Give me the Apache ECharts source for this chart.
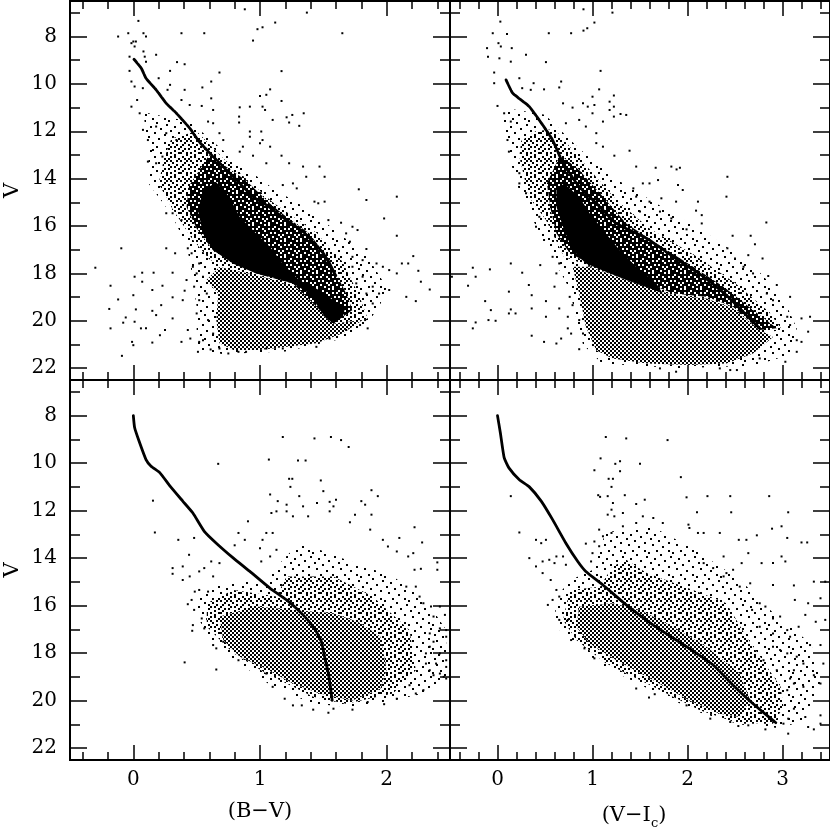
<!DOCTYPE html>
<html>
<head>
<meta charset="utf-8">
<title>Colour-magnitude diagrams</title>
<script src="https://cdn.jsdelivr.net/npm/echarts@6/dist/echarts.min.js"></script>
<style>
  html, body { margin: 0; padding: 0; background: #fff; overflow: hidden; }
  #chart { width: 830px; height: 827px; }
</style>
</head>
<body>
<div id="chart"></div>
<script>
// tick values
var vMajor = [8, 10, 12, 14, 16, 18, 20, 22]
var vMinor = [7, 9, 11, 13, 15, 17, 19, 21]
var bvMajor = [0, 1, 2]
var bvMinor = [-0.4, -0.2, 0.2, 0.4, 0.6, 0.8, 1.2, 1.4, 1.6, 1.8, 2.2, 2.4]
var viMajor = [0, 1, 2, 3]
var viMinor = [-0.4, -0.2, 0.2, 0.4, 0.6, 0.8, 1.2, 1.4, 1.6, 1.8, 2.2, 2.4, 2.6, 2.8, 3.2, 3.4]

// ridge lines, [colour, V]
var topLeftRidge = [[0.005, 8.96], [0.063, 9.34], [0.1, 9.76], [0.18, 10.25], [0.26, 10.82], [0.34, 11.24], [0.445, 11.87], [0.52, 12.44], [0.63, 13.07], [0.79, 13.92], [0.945, 14.76], [1.05, 15.11], [1.21, 15.75], [1.34, 16.24], [1.5, 17.15], [1.6, 18.14]]
var topRightRidge = [[0.09, 9.83], [0.16, 10.39], [0.335, 10.96], [0.475, 11.73], [0.58, 12.37], [0.69, 13.35], [0.86, 14.34], [1.04, 15.04], [1.25, 15.89], [1.57, 16.52], [1.85, 17.3], [2.17, 18.14], [2.41, 18.92], [2.62, 19.76], [2.76, 20.32]]
var lowLeftCurve = [[0, 8], [0.01, 8.5], [0.045, 9.07], [0.1, 9.85], [0.14, 10.13], [0.21, 10.41], [0.29, 10.97], [0.39, 11.6], [0.47, 12.1], [0.56, 12.87], [0.655, 13.37], [0.79, 14], [0.92, 14.56], [1.08, 15.27], [1.21, 15.76], [1.34, 16.39], [1.43, 16.96], [1.485, 17.52], [1.51, 18.15], [1.54, 18.86], [1.57, 19.99]]
var lowRightCurve = [[0, 8], [0.03, 8.72], [0.07, 9.77], [0.12, 10.2], [0.23, 10.7], [0.335, 11], [0.46, 11.6], [0.58, 12.38], [0.72, 13.37], [0.845, 14.14], [0.93, 14.56], [1.11, 15.13], [1.355, 15.97], [1.64, 16.82], [1.99, 17.73], [2.27, 18.5], [2.48, 19.35], [2.69, 20.13], [2.93, 20.93]]

// outlines of the regions too crowded to read star by star, [colour, V]
var topLeftCore = [[0.655, 14.15], [0.76, 14.78], [0.84, 15.62], [0.97, 16.32], [1.08, 16.88], [1.18, 17.59], [1.31, 18.29], [1.47, 18.71], [1.58, 19.13], [1.67, 19.48], [1.655, 19.83], [1.58, 20.11], [1.51, 19.83], [1.39, 18.85], [1.26, 18.43], [1.13, 18.22], [0.97, 18], [0.79, 17.59], [0.63, 17.02], [0.55, 16.32], [0.51, 15.34], [0.55, 14.5]]
var topLeftDense = [[0.6, 13], [0.89, 14.08], [1.08, 15.06], [1.21, 15.62], [1.39, 16.32], [1.55, 17.45], [1.68, 18.85], [1.73, 19.55], [1.58, 20.11], [1.26, 18.43], [0.97, 18], [0.63, 17.02], [0.5, 16.1], [0.42, 15.2], [0.44, 14.3]]
var topLeftMid = [[0.3, 12.3], [0.5, 12], [0.7, 13.1], [1.1, 15], [1.45, 16.3], [1.65, 17.5], [1.78, 18.9], [1.85, 19.9], [1.6, 20.3], [0.6, 17.4], [0.46, 16.5], [0.3, 15.2], [0.2, 14.2], [0.24, 13.2]]
var topLeftGrey = [[0.576, 18.29], [0.68, 17.73], [0.97, 18.08], [1.13, 18.3], [1.39, 18.85], [1.51, 19.83], [1.58, 20.11], [1.81, 19.97], [1.655, 20.53], [1.445, 20.95], [1.23, 21.09], [1, 21.23], [0.79, 21.23], [0.68, 20.95], [0.655, 19.97], [0.67, 18.85]]
var topLeftSparse = [[0.08, 11.2], [0.45, 11.6], [0.75, 13], [1.1, 14.4], [1.35, 15.2], [1.6, 16.2], [1.85, 17.3], [2, 18.6], [1.95, 19.3], [1.85, 20.1], [1.7, 20.7], [1.2, 21.3], [0.7, 21.4], [0.5, 21.2], [0.5, 19.4], [0.45, 17.6], [0.42, 16.8], [0.3, 15.5], [0.12, 14.2], [0.12, 13]]

var topRightCore = [[0.7, 14.2], [0.86, 14.76], [0.97, 15.46], [1.11, 16.17], [1.285, 17.01], [1.46, 17.72], [1.67, 18.42], [1.74, 18.85], [1.6, 18.63], [1.355, 18.28], [1.14, 17.93], [0.93, 17.58], [0.79, 17.01], [0.7, 16.17], [0.62, 15.18], [0.62, 14.48]]
var topRightDense = [[0.66, 13], [0.86, 13.63], [1.14, 14.9], [1.355, 15.89], [1.67, 16.73], [2.06, 17.72], [2.38, 18.56], [2.69, 19.55], [2.94, 20.32], [2.76, 20.39], [2.48, 19.41], [2.2, 18.99], [1.85, 18.85], [1.5, 18.28], [0.97, 17.58], [0.76, 17.15], [0.62, 16.31], [0.56, 15.3], [0.52, 14.2]]
var topRightMid = [[0.4, 12], [0.6, 11.9], [0.9, 13.3], [1.25, 14.9], [1.6, 16.1], [2.1, 17.3], [2.5, 18.4], [2.85, 19.6], [3, 20.4], [2.76, 20.5], [1.85, 19], [0.97, 17.7], [0.7, 17.3], [0.51, 15.75], [0.33, 14.76], [0.28, 13.92], [0.23, 13.07], [0.25, 12.4]]
var topRightGrey = [[0.79, 17.72], [0.97, 17.72], [1.355, 18.28], [1.85, 18.92], [2.2, 19.06], [2.48, 19.48], [2.76, 20.39], [2.9, 20.68], [2.69, 21.38], [2.41, 21.8], [2.02, 21.87], [1.57, 21.8], [1.21, 21.59], [1.04, 21.24], [0.93, 20.25], [0.86, 18.85]]
var topRightSparse = [[0.05, 11], [0.5, 11.3], [0.85, 12.7], [1.2, 13.9], [1.65, 15], [2.2, 16.3], [2.7, 17.7], [3, 19], [3.15, 20.3], [3.1, 21.4], [2.7, 21.9], [1.9, 22], [1.1, 21.8], [0.9, 21], [0.75, 18.6], [0.55, 17.1], [0.38, 15.8], [0.22, 14.4], [0.1, 12.8]]

var lowLeftGrey = [[0.68, 16.46], [0.97, 16.04], [1.26, 16.18], [1.58, 16.32], [1.78, 16.7], [1.95, 17.3], [2, 18.7], [1.95, 19.5], [1.73, 19.99], [1.47, 19.7], [1.26, 19.28], [1.02, 18.58], [0.84, 18.15], [0.71, 17.45]]
var lowLeftMid = [[1.21, 14.77], [1.58, 14.77], [1.89, 15.62], [2.18, 17.03], [2.23, 18.72], [2.05, 19.7], [1.68, 20.13], [1.42, 19.84], [1.05, 18.86], [0.79, 18], [0.58, 16.89], [0.58, 15.9], [0.79, 15.34], [1.13, 15.62]]
var lowLeftSparse = [[1.18, 14.07], [1.31, 13.37], [1.47, 13.65], [1.68, 14.07], [2.05, 14.77], [2.31, 15.76], [2.47, 17.03], [2.47, 18.99], [2.29, 19.7], [2.05, 19.99], [1.71, 20.27], [1.42, 20.13], [1.1, 19.42], [0.84, 18.44], [0.63, 17.59], [0.52, 16.6], [0.48, 15.9], [0.6, 15.2], [0.85, 15], [1.05, 15]]

var lowRightGrey = [[0.86, 16.04], [1.21, 15.9], [1.5, 16.18], [1.85, 16.89], [2.2, 17.73], [2.55, 18.86], [2.66, 19.99], [2.55, 20.69], [2.34, 20.55], [2.02, 19.99], [1.64, 19.14], [1.25, 18.3], [0.97, 17.59], [0.83, 16.89]]
var lowRightMid = [[1.355, 14.07], [1.57, 14.63], [2.06, 15.34], [2.41, 15.9], [2.62, 17.31], [2.98, 19.42], [3.01, 20.27], [2.9, 20.97], [2.55, 20.97], [2.13, 20.41], [1.64, 19.42], [1.14, 18.43], [0.83, 17.45], [0.69, 16.6], [0.76, 15.34], [1.08, 15.2], [1.21, 14.35]]
var lowRightSparse = [[1.14, 12.9], [1.64, 12.7], [2.06, 13.6], [2.55, 14.9], [2.9, 16.3], [3.3, 17.6], [3.42, 19.3], [3.2, 20.9], [2.95, 21.15], [2.55, 21], [2.13, 20.5], [1.64, 19.6], [1.14, 18.6], [0.83, 17.7], [0.62, 16.9], [0.6, 15.7], [0.78, 14.9], [1, 14.5]]

// single stars, [colour, V]
var topLeftStars = [[0.04, 7.34], [-0.04, 7.86], [-0.12, 8], [0.08, 7.86], [0.1, 8], [0.38, 7.86], [0.56, 7.86], [0.88, 6.85], [1.37, 6.99], [1.12, 7.41], [1.02, 7.61], [0.98, 7.69], [0.945, 8.17], [1.65, 7.86], [0, 8.21], [0.01, 8.42], [-0.015, 8.28], [0.02, 8.21], [0.08, 8.63], [0.09, 8.85], [0.18, 8.77], [-0.03, 8.85], [0.1, 9.06], [0.345, 9.08], [0.405, 9.17], [0.29, 9.45], [0.68, 9.52], [1.17, 9.46], [0.615, 9.9], [-0.03, 9.45], [-0.015, 9.9], [0.01, 10.11], [0.075, 10.18], [0.2, 9.76], [0.29, 10.04], [0.27, 10.25], [0.405, 10.25], [0.545, 10.15], [0.615, 10.61], [1, 10.51], [1.08, 10.23], [1.17, 10.72], [1.05, 10.46], [1.02, 10.96], [1.04, 11.1], [0.84, 10.99], [0.92, 10.96], [0.835, 11.38], [0.835, 11.63], [0.63, 11.1], [0.54, 10.93], [0.38, 10.68], [0.445, 10.89], [-0.015, 10.96], [0.03, 10.68], [0.05, 11.24], [0.1, 11.31], [1.21, 11.41], [1.255, 11.31], [1.23, 11.63], [1.345, 11.24], [1.31, 11.77], [1.1, 11.52], [1.01, 12.01], [0.92, 12.01], [0.92, 12.23], [1.02, 12.37], [1.08, 12.65], [1, 12.5], [0.865, 12.65], [0.84, 12.86], [0.945, 13.03], [1.17, 13.03], [0.71, 12.37], [0.68, 12.08], [0.63, 11.66], [0.59, 11.59], [1.23, 13.35], [1.34, 13.49], [1.47, 13.49], [1.51, 13.92], [1.365, 13.92], [1.05, 13.35], [1.18, 14.27], [1.26, 14.2], [1.29, 14.41], [1.78, 14.45], [1.84, 14.9], [2.08, 14.76], [1.98, 15.68], [2.08, 16.41], [1.43, 14.97], [1.51, 14.97], [1.46, 15.04], [1.54, 15.75], [1.64, 15.86], [1.73, 16.03], [1.77, 16.17], [1.68, 16.31], [1.71, 16.66], [1.84, 16.97], [2.21, 17.27], [2.17, 17.58], [2.12, 17.58], [2.25, 17.89], [2.27, 18.35], [2.34, 18.68], [2.155, 18.99], [2.23, 19.17], [2.08, 18], [2.02, 17.86], [1.97, 17.72], [1.92, 17.58], [2.02, 18.7], [1.94, 18.85], [1.89, 19.27], [1.84, 18.85], [1.89, 18.56], [1.81, 17.44], [1.73, 17.3], [1.73, 17.72], [1.81, 18.14], [1.76, 18.42], [1.83, 19.97], [1.85, 20.32], [-0.3, 17.76], [-0.095, 16.94], [0.26, 16.94], [0.33, 17.15], [0.01, 18.14], [0.07, 17.97], [0.16, 17.97], [0.31, 17.97], [-0.18, 18.52], [-0.12, 19.1], [0, 18.92], [0.07, 18.35], [0.15, 18.7], [0.23, 18.52], [0.31, 19.01], [0.405, 18.73], [0.39, 19.13], [-0.19, 19.5], [0.02, 19.52], [-0.06, 19.86], [-0.08, 20.08], [0.01, 20.04], [-0.18, 20.32], [0.06, 20.32], [0.1, 20.32], [0.15, 19.58], [0.18, 19.76], [0.22, 19.34], [0.31, 19.9], [0.25, 20.39], [0.21, 20.61], [-0.01, 20.89], [0, 21.03], [0.15, 20.92], [0.38, 20.89], [-0.09, 21.48], [0.43, 20.39], [0.45, 20.75], [0.51, 21.31], [0.61, 21.21], [0.52, 20.89], [0.55, 20.82], [0.63, 20.54], [0.59, 19.97], [0.5, 19.69], [0.52, 19.13], [0.58, 18.85], [0.48, 18.56], [0.42, 18.28], [0.47, 17.72], [0.5, 18], [0.52, 17.58], [0.55, 18.14], [0.43, 16.94], [0.46, 17.15], [0.26, 15.46], [0.31, 15.46], [0.38, 15.75], [0.076, 11.94], [0.115, 12.37], [0.155, 12.79], [0.115, 13.28], [0.18, 13.35], [0.23, 13.07], [0.18, 11.8], [0.26, 12.08], [0.34, 12.37], [0.68, 21.17], [0.75, 21.38], [0.83, 21.31], [0.89, 21.31], [1.05, 21.17], [1.18, 21.17], [1.445, 21.1], [1.55, 20.75], [1.68, 20.39], [1.79, 20.18]]
var topRightStars = [[0.905, 6.85], [1.21, 6.99], [1.02, 7.41], [0.945, 7.65], [0.905, 7.75], [0.775, 7.86], [0.54, 7.86], [0.03, 7.37], [-0.05, 7.86], [0.1, 7.89], [-0.11, 8.49], [0.01, 8.28], [0.035, 8.42], [0.15, 8.49], [-0.1, 8.85], [0.02, 8.92], [0.14, 9.06], [0.3, 8.77], [0.51, 9.08], [-0.035, 9.52], [1.085, 9.45], [-0.035, 9.97], [0.23, 9.76], [0.38, 9.97], [0.67, 9.9], [0.65, 10.15], [0.49, 10.23], [0.26, 10.18], [0.35, 10.25], [1.07, 10.23], [1, 10.54], [1.225, 10.49], [1.18, 10.75], [1.18, 11.1], [1.225, 10.96], [1.225, 11.38], [0.69, 10.82], [0.79, 11], [0.9, 10.82], [1.02, 10.89], [0.95, 10.96], [1.295, 11.27], [1.355, 11.31], [1, 11.24], [1.11, 11.59], [0, 10.93], [0.07, 11.24], [0.14, 11.59], [0.86, 11.52], [0.72, 11.66], [0.93, 11.8], [1.04, 12.08], [1.11, 12.65], [1.04, 12.5], [1.39, 12.82], [1.23, 13.03], [1.46, 13.49], [1.665, 13.54], [1.83, 13.49], [1.885, 13.61], [1.92, 13.54], [2.42, 13.92], [1.69, 14.06], [1.53, 14.2], [1.6, 14.2], [1.43, 14.41], [1.46, 14.76], [1.9, 14.27], [1.95, 14.48], [2.41, 14.76], [1.88, 14.97], [1.6, 14.97], [2.11, 14.97], [1.725, 14.83], [2.09, 15.35], [2.15, 15.54], [2.15, 15.89], [1.71, 15.39], [1.5, 15.39], [1.83, 15.68], [1.99, 16.14], [2.83, 15.85], [2.475, 16.41], [2.665, 16.41], [2.71, 16.77], [2.42, 16.94], [2.64, 17.23], [2.79, 17.37], [2.5, 17.37], [2.69, 18], [2.85, 18.11], [2.59, 17.72], [2.94, 18.49], [3.08, 18.99], [2.9, 19.13], [2.835, 18.85], [3.05, 19.83], [3.29, 19.83], [3.2, 19.9], [3.27, 20.46], [3.15, 20.82], [3.2, 20.89], [3.15, 21.31], [3.03, 21.73], [3.08, 20.18], [2.76, 21.59], [2.52, 22.08], [2.45, 22.08], [2.34, 22.01], [1.88, 22.15], [1.71, 22.01], [-0.26, 17.76], [-0.08, 17.83], [-0.48, 18.14], [-0.23, 18.14], [-0.31, 18.52], [0.14, 17.58], [0.26, 17.97], [0.45, 17.65], [0.33, 18.49], [0.12, 18.77], [0.36, 18.92], [-0.13, 19.17], [0.51, 19.17], [-0.07, 19.55], [0.14, 19.52], [0.12, 19.69], [0.36, 19.48], [0.19, 19.69], [-0.23, 20.07], [-0.095, 19.97], [-0.02, 20], [-0.26, 20.32], [0.51, 19.83], [0.74, 19.83], [0.65, 19.48], [0.6, 18.56], [0.62, 18], [0.76, 18.99], [0.79, 19.34], [0.36, 20.63], [0.49, 20.89], [0.62, 20.96], [0.74, 20.32], [0.775, 20.54], [0.67, 20.75], [0.86, 21.2], [0.9, 20.54], [0.86, 19.97], [0.105, 12.37], [0.12, 12.86], [0.23, 13.77], [0.23, 14.2], [0.3, 14.62], [0.44, 15.61], [0.405, 16.03], [0.49, 16.59], [0.58, 17.3], [0.65, 17.58]]
var lowLeftStars = [[1.18, 8.9], [1.43, 8.96], [1.56, 8.9], [1.64, 9.03], [1.7, 9.32], [1.07, 9.85], [1.3, 9.89], [1.36, 9.89], [0.67, 10.03], [1.23, 10.66], [1.255, 10.66], [1.24, 11], [1.48, 10.73], [1.5, 11.18], [1.08, 11.32], [1.31, 11.39], [1.88, 11.14], [1.93, 11.39], [1.6, 11.54], [1.55, 11.63], [0.155, 11.58], [0.17, 12.92], [0.355, 13.23], [0.48, 13.15], [0.905, 12.45], [1.14, 11.6], [1.21, 11.75], [1.09, 12.1], [1.13, 12.03], [1.21, 12.03], [1.26, 12.24], [1.34, 11.82], [1.38, 12.24], [1.45, 11.68], [1.55, 12.03], [1.58, 11.82], [1.8, 11.6], [1.83, 11.75], [1.88, 12.17], [1.75, 12.17], [1.71, 12.49], [2.22, 12.7], [1.87, 12.8], [2.28, 13.34], [2.1, 13.15], [1.97, 13.23], [2.01, 13.51], [2.21, 13.79], [2.08, 13.72], [2.4, 14.18], [2.4, 14.49], [2.22, 14.49], [2.27, 14.45], [2.17, 13.93], [0.83, 12.94], [0.88, 13.23], [0.8, 13.46], [1.05, 12.94], [1.1, 12.94], [1.02, 13.23], [1, 13.58], [1.08, 13.93], [1.01, 14.14], [1.13, 13.65], [0.31, 14.42], [0.31, 14.66], [0.39, 14.35], [0.39, 14.92], [0.44, 13.86], [0.445, 14.77], [0.52, 14.56], [0.56, 14.42], [0.615, 14.14], [0.68, 14.21], [0.63, 14.77], [0.59, 15.41], [0.52, 15.34], [0.485, 15.41], [0.43, 15.94], [0.46, 15.76], [0.48, 16.18], [0.54, 16.54], [0.47, 16.82], [0.465, 17.06], [0.56, 16.96], [0.63, 17.66], [0.655, 17.8], [0.71, 17.52], [0.405, 18.39], [0.655, 18.69], [0.83, 18.3], [1.05, 18.86], [1.1, 19.42], [1.195, 19.92], [1.26, 20.2], [1.33, 20.2], [1.42, 20.38], [1.54, 20.51], [1.58, 20.34], [1.73, 20.38], [1.85, 20.06], [1.98, 20.15], [2.08, 19.92], [2.23, 19.7], [2.29, 19.56], [2.18, 19.35], [2.35, 16.04], [2.42, 16.04], [2.46, 16.39], [2.37, 16.46], [2.42, 16.96], [2.47, 17.03], [2.34, 17.17], [2.47, 17.31], [2.37, 17.52], [2.34, 17.73], [2.42, 18.01], [2.47, 18.3], [2.39, 18.44], [2.47, 18.58], [2.34, 18.72], [2.42, 18.86], [2.47, 19.07], [2.37, 18.93], [2.45, 19], [2.31, 18.01], [2.31, 18.44], [2.29, 15.9], [2.26, 15.62], [2.155, 15.2], [2.23, 15.2]]
var lowRightStars = [[1.14, 8.9], [1.355, 8.96], [1.79, 9.03], [1.085, 9.8], [1.29, 9.92], [1.24, 10.03], [1.5, 10.03], [1.02, 10.3], [1.29, 10.34], [1.17, 10.66], [1.215, 10.66], [1.93, 10.59], [1.2, 11], [0.14, 11.39], [1.06, 11.35], [1.08, 11.42], [1.34, 11.35], [1.16, 11.39], [1.55, 11.54], [1.46, 11.72], [1.99, 11.44], [2.21, 11.39], [2.45, 11.39], [2.86, 11.39], [3.06, 12.07], [2.46, 12.07], [2.1, 12.07], [0.23, 12.92], [2.89, 12.76], [2.99, 12.66], [3.05, 13.15], [2.73, 13.04], [2.54, 13.23], [2.62, 13.23], [3.2, 13.34], [3.26, 13.34], [2.34, 12.94], [2.17, 12.94], [2.11, 12.94], [2.01, 12.59], [2.02, 12.73], [1.74, 12.52], [1.64, 12.31], [1.53, 12.24], [1.46, 12.52], [1.32, 12.66], [1.215, 11.68], [1.2, 11.96], [1.16, 12.17], [1.23, 12.24], [1.32, 12.1], [1.07, 12.8], [1.11, 13.08], [1.2, 12.94], [1.02, 13.3], [0.93, 13.39], [1.07, 13.5], [1, 13.79], [0.985, 14.14], [0.405, 13.23], [0.46, 13.37], [0.51, 13.23], [0.335, 14], [0.405, 14.35], [0.475, 14.63], [0.545, 14.07], [0.475, 14.14], [0.62, 13.93], [0.69, 13.93], [0.6, 14.21], [0.72, 14.28], [0.56, 14.92], [0.62, 15.34], [0.58, 15.76], [0.53, 15.97], [0.65, 15.62], [0.65, 16.6], [0.74, 16.6], [0.775, 17.45], [0.915, 17.8], [1.02, 18.22], [1.46, 19.49], [1.595, 19.87], [1.655, 19.73], [1.99, 20.2], [2.24, 20.76], [2.45, 20.9], [2.535, 21.07], [2.64, 21.04], [2.82, 21.21], [3.06, 21.39], [3.27, 21.11], [3.33, 21.21], [3.4, 20.62], [3.4, 20.97], [3.24, 20.69], [3.12, 20.34], [3.06, 20.76], [3.01, 20.97], [3.45, 14.99], [3.33, 14.99], [3.12, 15.15], [2.9, 15.13], [3.13, 15.76], [3.27, 15.9], [3.4, 15.69], [3.24, 16.39], [3.35, 16.68], [3.45, 16.6], [3.17, 16.89], [3.05, 17.03], [2.975, 16.46], [2.9, 16.54], [3.08, 17.31], [2.9, 17.17], [3.4, 17.66], [3.29, 17.66], [3.15, 18.15], [3.05, 18.01], [2.975, 17.87], [2.9, 17.73], [3.12, 18.72], [3.22, 18.44], [3.43, 18.44], [3.4, 19.28], [3.33, 18.93], [3.22, 19.42], [3.12, 19.28], [3.05, 19.56], [3.08, 19.07], [2.94, 18.72], [2.8, 18.3], [2.76, 16.89], [2.76, 15.9], [2.82, 16.04], [2.68, 16.18], [2.55, 15.2], [2.66, 15.06], [2.41, 14.63], [2.38, 14.77], [2.48, 14.49], [2.57, 14.21], [2.64, 13.79], [2.78, 14.21], [2.9, 14.21], [2.99, 13.93], [3.03, 14.14], [2.38, 13.93], [2.17, 14.21], [2.27, 14.42]]

// fill textures for the crowded regions, one character = 2px
var greyRows = ['#.', '.#']
var denseRows = ['####.#.#', '#.######', '.##.##.#', '####.###', '#.#####.', '###.#.##', '.###.###', '##.###.#']
var midRows = ['#..#.#..#.', '..#...#...', '.#..#...#.', '#....#.#..', '..#.#....#', '.#.....#..', '#..#.#...#', '...#...#..', '.#...#.#..', '..#.#....#']
var sparseRows = ['#...........', '......#.....', '...........#', '...#........', '........#...', '.#..........', '.....#......', '..........#.', '..#.........', '.......#....', '............', '....#.....#.']

function makeTile (rows, background) {
  var cell = 2
  var canvas = document.createElement('canvas')
  canvas.width = rows[0].length * cell
  canvas.height = rows.length * cell
  var ctx = canvas.getContext('2d')
  if (background) {
    ctx.fillStyle = background
    ctx.fillRect(0, 0, canvas.width, canvas.height)
  }
  ctx.fillStyle = '#000'
  rows.forEach(function (row, j) {
    row.split('').forEach(function (c, i) {
      if (c === '#') ctx.fillRect(i * cell, j * cell, cell, cell)
    })
  })
  return { image: canvas, repeat: 'repeat' }
}

var greyFill = makeTile(greyRows, '#fff')
var denseFill = makeTile(denseRows, '#fff')
var midFill = makeTile(midRows, '#fff')
var sparseFill = makeTile(sparseRows)

var serif = 'DejaVu Serif'

var panels = [
  { left: 70, top: 1, height: 379, xMin: -0.5, xMax: 2.5, major: bvMajor, minor: bvMinor, stars: topLeftStars, line: topLeftRidge, dash: [5, 1], yLabels: true, xLabels: false, regions: [[topLeftSparse, sparseFill], [topLeftMid, midFill], [topLeftGrey, greyFill], [topLeftDense, denseFill], [topLeftCore, '#000']] },
  { left: 450, top: 1, height: 379, xMin: -0.5, xMax: 3.5, major: viMajor, minor: viMinor, stars: topRightStars, line: topRightRidge, dash: [5, 1], yLabels: false, xLabels: false, regions: [[topRightSparse, sparseFill], [topRightMid, midFill], [topRightGrey, greyFill], [topRightDense, denseFill], [topRightCore, '#000']] },
  { left: 70, top: 380, height: 380, xMin: -0.5, xMax: 2.5, major: bvMajor, minor: bvMinor, stars: lowLeftStars, line: lowLeftCurve, dash: 'solid', yLabels: true, xLabels: true, xName: '(B\u2212V)', namePad: 0, regions: [[lowLeftSparse, sparseFill], [lowLeftMid, midFill], [lowLeftGrey, greyFill]] },
  { left: 450, top: 380, height: 380, xMin: -0.5, xMax: 3.5, major: viMajor, minor: viMinor, stars: lowRightStars, line: lowRightCurve, dash: 'solid', yLabels: false, xLabels: true, xName: '(V\u2212I{sub|c})', namePad: 12, regions: [[lowRightSparse, sparseFill], [lowRightMid, midFill], [lowRightGrey, greyFill]] }
]

var tickLine = { color: '#000', width: 1.5 }
var grids = []
var xAxes = []
var yAxes = []
var series = []

function baseAxis (gridIndex, min, max, position, values, length) {
  return {
    type: 'value',
    gridIndex: gridIndex,
    min: min,
    max: max,
    position: position,
    splitLine: { show: false },
    axisLine: { show: true, onZero: false, lineStyle: { color: '#000', width: 2 } },
    axisTick: { show: true, inside: true, length: length, customValues: values, lineStyle: tickLine },
    axisLabel: { show: false }
  }
}

panels.forEach(function (p, g) {
  grids.push({ left: p.left, top: p.top, width: 380, height: p.height, outerBoundsMode: 'none' })

  var xIndex = xAxes.length
  var yIndex = yAxes.length

  var xMain = baseAxis(g, p.xMin, p.xMax, 'bottom', p.major, 15)
  if (p.xLabels) {
    xMain.axisLabel = { show: true, customValues: p.major, margin: 10, color: '#000', fontFamily: serif, fontSize: 20 }
    xMain.name = p.xName
    xMain.nameLocation = 'middle'
    xMain.nameGap = 41
    xMain.nameTextStyle = {
      color: '#000',
      fontFamily: serif,
      fontSize: 21,
      padding: [0, p.namePad, 0, 0],
      rich: { sub: { fontFamily: serif, fontSize: 13, verticalAlign: 'top', padding: [16, 0, 0, 0] } }
    }
  }
  xAxes.push(xMain)
  xAxes.push(baseAxis(g, p.xMin, p.xMax, 'bottom', p.minor, 8))
  xAxes.push(baseAxis(g, p.xMin, p.xMax, 'top', p.major, 15))
  xAxes.push(baseAxis(g, p.xMin, p.xMax, 'top', p.minor, 8))

  var yMain = baseAxis(g, 6.5, 22.5, 'left', vMajor, 17)
  yMain.inverse = true
  if (p.yLabels) {
    yMain.axisLabel = { show: true, customValues: vMajor, margin: 13, color: '#000', fontFamily: serif, fontSize: 20 }
    yMain.name = 'V'
    yMain.nameLocation = 'middle'
    yMain.nameGap = 47
    yMain.nameRotate = 90
    yMain.nameTextStyle = { color: '#000', fontFamily: serif, fontSize: 21 }
  }
  yAxes.push(yMain)
  var others = [['left', vMinor, 10], ['right', vMajor, 17], ['right', vMinor, 10]]
  others.forEach(function (o) {
    var a = baseAxis(g, 6.5, 22.5, o[0], o[1], o[2])
    a.inverse = true
    yAxes.push(a)
  })

  p.regions.forEach(function (region) {
    series.push({
      type: 'custom',
      xAxisIndex: xIndex,
      yAxisIndex: yIndex,
      data: region[0],
      silent: true,
      clip: true,
      encode: { x: 0, y: 1 },
      renderItem: function (params, api) {
        if (params.dataIndex !== 0) return null
        return {
          type: 'polygon',
          shape: { points: region[0].map(function (pt) { return api.coord(pt) }) },
          style: { fill: region[1] }
        }
      }
    })
  })

  series.push({
    type: 'scatter',
    xAxisIndex: xIndex,
    yAxisIndex: yIndex,
    data: p.stars,
    symbol: 'rect',
    symbolSize: 2,
    silent: true,
    itemStyle: { color: '#000', opacity: 1 }
  })

  series.push({
    type: 'line',
    xAxisIndex: xIndex,
    yAxisIndex: yIndex,
    data: p.line,
    smooth: 0.15,
    showSymbol: false,
    silent: true,
    lineStyle: { color: '#000', width: 2.8, type: p.dash, cap: 'round' }
  })
})

var chart = echarts.init(document.getElementById('chart'), null, { renderer: 'canvas' })
chart.setOption({
  animation: false,
  backgroundColor: '#fff',
  grid: grids,
  xAxis: xAxes,
  yAxis: yAxes,
  series: series
})
</script>
</body>
</html>
